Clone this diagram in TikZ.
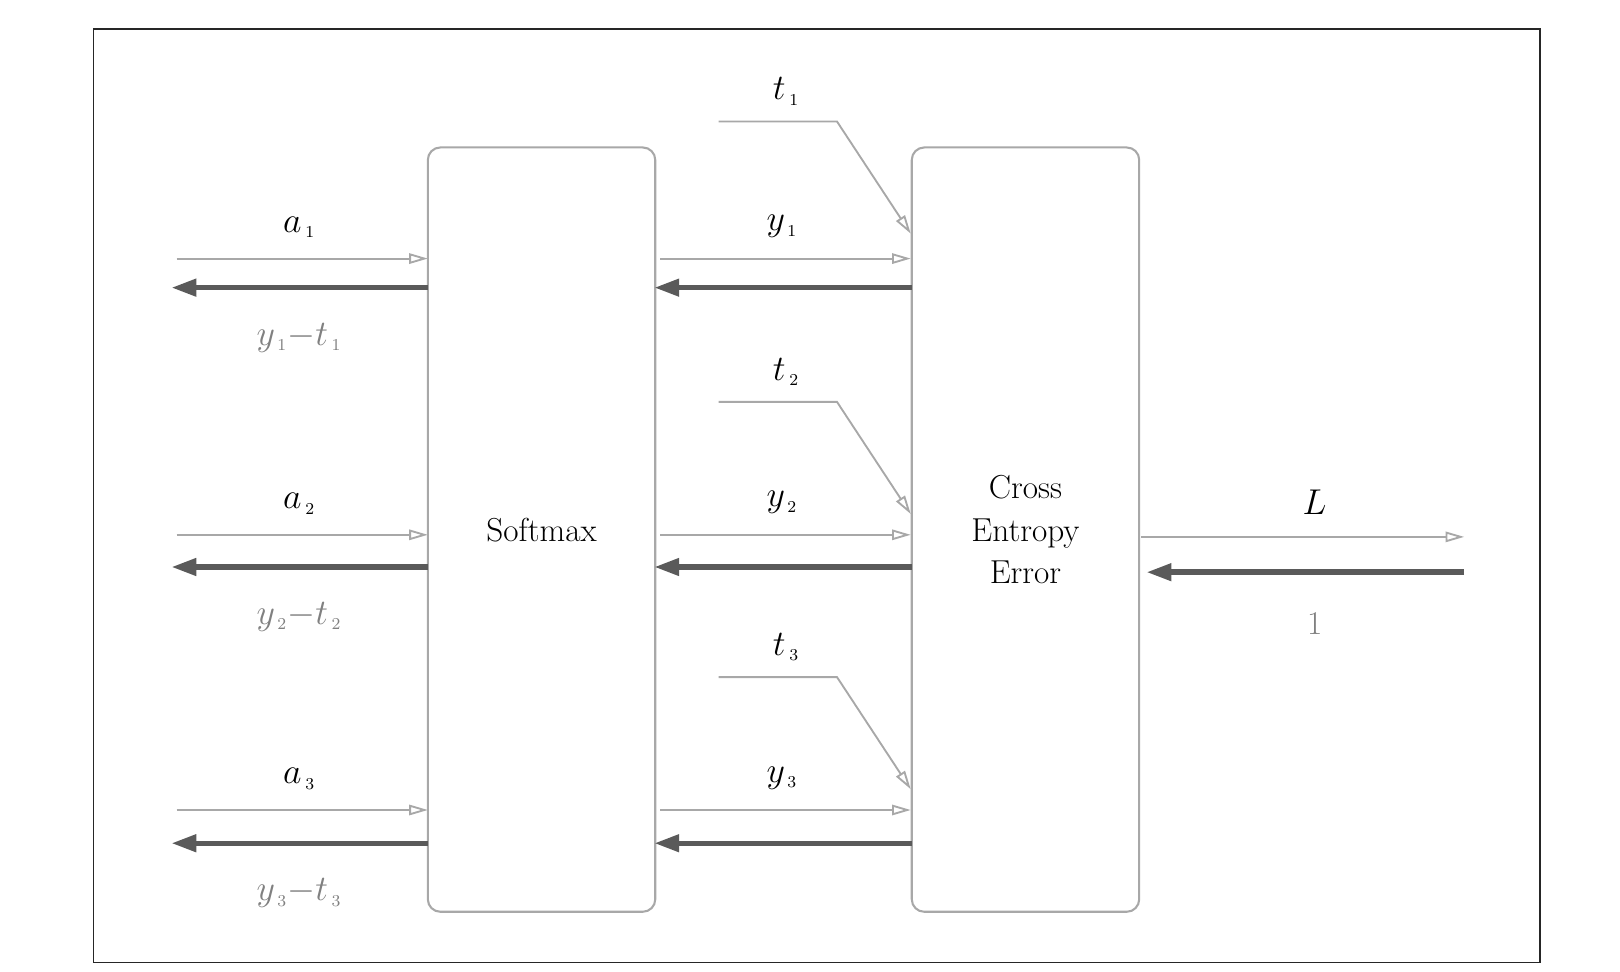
\documentclass[tikz,border=0pt]{standalone}
\usetikzlibrary{arrows.meta}
\definecolor{lg}{HTML}{A8A8A8}
\definecolor{dg}{HTML}{5A5A5A}
\definecolor{tg}{HTML}{808080}
\newcommand{\sbs}[1]{_{\,\scriptscriptstyle #1}}
\begin{document}
\begin{tikzpicture}[x=0.5pt,y=-0.5pt,
  fwd/.style={draw=lg,line width=0.9pt,-{Triangle[open,length=9pt,width=5pt]}},
  bwd/.style={draw=dg,line width=2.6pt,-{Triangle[length=12pt,width=8pt]}},
  lbl/.style={font=\fontsize{16}{19}\selectfont},
  glbl/.style={font=\fontsize{16}{19}\selectfont,text=tg},
  blk/.style={draw=lg,line width=1pt,rounded corners=6pt,minimum width=109.5pt,minimum height=368pt,font=\fontsize{16}{20.5}\selectfont,align=center}]
\useasboundingbox (0,0) rectangle (1560,936);
\draw[line width=0.8pt,black!85] (90,28) rectangle (1483,927);
\node[blk] (sm) at (521.5,510) {Softmax};
\node[blk] (ce) at (987.5,510) {Cross\\Entropy\\Error};
\foreach \i/\f/\b/\ty in {1/249/277/117, 2/515/546/387, 3/780/812/652}{
  \coordinate (ls\i) at (170,\f);
  \coordinate (le\i) at (165,\b);
  \coordinate (sf\i) at (412,\f);
  \coordinate (sb\i) at (412,\b);
  \coordinate (sfr\i) at (636,\f);
  \coordinate (sbr\i) at (630,\b);
  \coordinate (cf\i) at (877,\f);
  \coordinate (cb\i) at (878,\b);
  \coordinate (ts\i) at (692,\ty);
  \coordinate (tk\i) at (806,\ty);
  \coordinate (te\i) at (877,\ty+108);
  \draw[fwd] (ls\i) -- (sf\i);
  \draw[bwd] (sb\i) -- (le\i);
  \draw[fwd] (sfr\i) -- (cf\i);
  \draw[bwd] (cb\i) -- (sbr\i);
  \draw[fwd] (ts\i) -- (tk\i) -- (te\i);
  \node[lbl] (a\i) at (288,\f-30) {$a\sbs{\i}$};
  \node[glbl] (d\i) at (288,\b+48) {$y\sbs{\i}{-}t\sbs{\i}$};
  \node[lbl] (y\i) at (753,\f-31) {$y\sbs{\i}$};
  \node[lbl] (t\i) at (757,\ty-29) {$t\sbs{\i}$};
}
\coordinate (Lo) at (1410,517);
\coordinate (Li) at (1410,551);
\coordinate (ceL) at (1099,517);
\coordinate (ceB) at (1104,551);
\draw[fwd] (ceL) -- (Lo);
\draw[bwd] (Li) -- (ceB);
\node[lbl] (L) at (1266,484) {$L$};
\node[glbl] (one) at (1266,600) {1};
\end{tikzpicture}
\end{document}
